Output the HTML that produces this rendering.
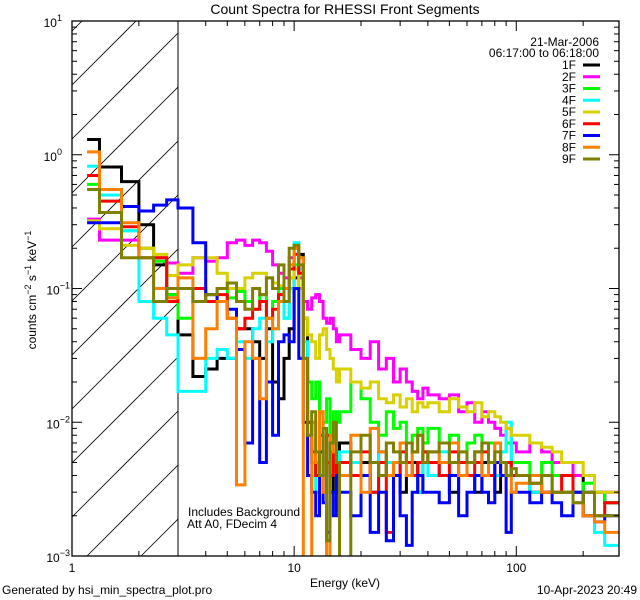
<!DOCTYPE html>
<html><head><meta charset="utf-8"><style>
html,body{margin:0;padding:0;background:#fff;overflow:hidden;width:640px;height:600px;}
svg{display:block;font-family:"Liberation Sans",sans-serif;overflow:hidden;}
</style></head><body>
<svg id="chart" width="640" height="600" viewBox="0 0 640 600">
<rect width="640" height="600" fill="#fff"/>
<defs><clipPath id="hclip"><rect x="72" y="21" width="106" height="535"/></clipPath>
<clipPath id="pclip"><rect x="72" y="21" width="547" height="535"/></clipPath></defs>
<text x="345" y="14" text-anchor="middle" font-size="14">Count Spectra for RHESSI Front Segments</text>
<g id="hatch" clip-path="url(#hclip)"></g>
<line x1="178" y1="21" x2="178" y2="556" stroke="#000" stroke-width="1"/>
<g id="series" clip-path="url(#pclip)"></g>
<rect x="72" y="21" width="547" height="535" fill="none" stroke="#000" stroke-width="1.3"/>
<g id="axes"></g>
<text x="345" y="587" text-anchor="middle" font-size="12">Energy (keV)</text>
<text transform="translate(36,290) rotate(-90)" text-anchor="middle" font-size="12">counts cm<tspan dy="-5" font-size="9">−2</tspan><tspan dy="5"> s</tspan><tspan dy="-5" font-size="9">−1</tspan><tspan dy="5"> keV</tspan><tspan dy="-5" font-size="9">−1</tspan></text>
<text x="188" y="516" font-size="12">Includes Background</text>
<text x="187" y="528" font-size="12">Att A0, FDecim 4</text>
<text x="599" y="46" text-anchor="end" font-size="12">21-Mar-2006</text>
<text x="599" y="57" text-anchor="end" font-size="12">06:17:00 to 06:18:00</text>
<g id="legend"></g>
<text x="2" y="594" font-size="12">Generated by hsi_min_spectra_plot.pro</text>
<text x="637" y="594" text-anchor="end" font-size="12">10-Apr-2023 20:49</text>
</svg>
<script>
const edges=[1.17,1.33,1.67,2.0,2.33,2.67,3.0,3.5,4,4.5,5,5.5,6,6.5,7,7.5,8,8.5,9,9.5,10,10.5,11,11.5,12,12.5,13,13.5,14,14.5,15,15.5,16,18,20,22,24,26,28,30,32,34,36,38,40,45,50,55,60,65,70,75,80,85,90,95,100,115,130,145,160,180,200,225,250,290];
const seriesNames=["1F","2F","3F","4F","5F","6F","7F","8F","9F"];
const seriesColors=["#000000","#ff00ff","#00ff00","#00ffff","#d8d000","#ff0000","#0000ff","#ff8000","#808000"];
const s1F=[1.3,0.81,0.63,0.30,0.15,0.09, 0.045,0.022,0.025,0.03,0.03,0.05,0.05,0.04,0.03,0.05,0.02,0.015,0.03,0.05, 0.12,0.18,0.06,0.01,0.005,0.004,0.006,0.004,0.008,0.003,0.004,0.006, 0.007,0.004,0.005,0.003,0.006,0.004,0.005,0.003,0.004,0.005,0.003,0.006, 0.005,0.004,0.003,0.005,0.004,0.003,0.005,0.004,0.003,0.004,0.005,0.004, 0.004,0.003,0.004,0.003,0.003,0.004,0.003,0.003,0.0025];
const s2F=[0.33,0.23,0.23,0.2,0.17,0.155, 0.13,0.17,0.16,0.17,0.22,0.23,0.21,0.23,0.22,0.19,0.15,0.13,0.12,0.17, 0.2,0.12,0.08,0.07,0.085,0.09,0.08,0.06,0.055,0.06,0.05,0.04, 0.045,0.035,0.03,0.04,0.025,0.03,0.02,0.025,0.02,0.017,0.015,0.018, 0.016,0.015,0.016,0.012,0.014,0.01,0.012,0.01,0.009,0.008,0.009,0.007, 0.006,0.007,0.006,0.005,0.005,0.004,0.004,0.003,0.003];
const s3F=[0.6,0.45,0.27,0.2,0.16,0.09, 0.06,0.08,0.09,0.1,0.085,0.095,0.08,0.07,0.09,0.06,0.08,0.1,0.06,0.12, 0.15,0.1,0.03,0.02,0.015,0.02,0.012,0.01,0.015,0.008,0.012,0.01, 0.012,0.02,0.015,0.01,0.008,0.012,0.009,0.01,0.007,0.008,0.009,0.007, 0.009,0.007,0.008,0.006,0.007,0.008,0.006,0.007,0.005,0.006,0.007,0.005, 0.005,0.004,0.005,0.004,0.004,0.003,0.0035,0.003,0.0025];
const s4F=[0.82,0.5,0.27,0.08,0.06,0.045, 0.017,0.017,0.03,0.035,0.03,0.04,0.03,0.05,0.06,0.04,0.05,0.08,0.06,0.1, 0.22,0.14,0.04,0.01,0.005,0.003,0.008,0.004,0.0006,0.006,0.004,0.003, 0.006,0.005,0.004,0.003,0.006,0.005,0.004,0.006,0.005,0.004,0.003,0.005, 0.004,0.006,0.005,0.004,0.005,0.006,0.004,0.005,0.004,0.006,0.01,0.004, 0.004,0.003,0.004,0.003,0.003,0.003,0.002,0.0015,0.0012];
const s5F=[0.32,0.28,0.21,0.2,0.18,0.125, 0.15,0.17,0.17,0.13,0.1,0.1,0.12,0.13,0.13,0.12,0.11,0.105,0.1,0.12, 0.14,0.1,0.06,0.045,0.04,0.03,0.045,0.05,0.035,0.03,0.025,0.02, 0.025,0.02,0.018,0.02,0.015,0.014,0.016,0.013,0.015,0.012,0.014,0.013, 0.014,0.012,0.015,0.013,0.012,0.014,0.011,0.012,0.011,0.01,0.009,0.008, 0.008,0.007,0.0065,0.006,0.005,0.005,0.004,0.003,0.003];
const s6F=[0.7,0.45,0.29,0.17,0.17,0.08, 0.1,0.1,0.08,0.09,0.06,0.05,0.06,0.07,0.08,0.06,0.07,0.09,0.1,0.14, 0.18,0.13,0.03,0.01,0.006,0.004,0.008,0.003,0.005,0.004,0.006,0.003, 0.005,0.004,0.006,0.003,0.005,0.0015,0.004,0.006,0.005,0.004,0.005,0.006, 0.005,0.004,0.006,0.005,0.004,0.005,0.006,0.004,0.005,0.004,0.005,0.004, 0.004,0.0035,0.003,0.003,0.004,0.003,0.002,0.002,0.0025];
const s7F=[0.31,0.31,0.41,0.38,0.42,0.46, 0.40,0.22,0.09,0.08,0.07,0.035,0.007,0.03,0.005,0.02,0.008,0.04,0.045,0.04, 0.1,0.03,0.01,0.004,0.003,0.002,0.004,0.0025,0.0015,0.003,0.002,0.004, 0.003,0.002,0.004,0.0015,0.003,0.0013,0.004,0.002,0.0012,0.003,0.004,0.003, 0.003,0.0025,0.004,0.002,0.003,0.004,0.003,0.0025,0.005,0.004,0.0015,0.003, 0.003,0.0025,0.003,0.0025,0.002,0.003,0.002,0.0018,0.002];
const s8F=[1.05,0.55,0.31,0.17,0.1,0.085, 0.12,0.03,0.05,0.08,0.06,0.0034,0.04,0.03,0.015,0.06,0.05,0.08,0.1,0.15, 0.2,0.17,0.0005,0.0005,0.01,0.005,0.012,0.003,0.0005,0.008,0.006,0.005, 0.004,0.008,0.003,0.009,0.006,0.004,0.005,0.007,0.004,0.006,0.008,0.005, 0.006,0.005,0.007,0.004,0.005,0.006,0.004,0.005,0.007,0.005,0.004,0.003, 0.0035,0.004,0.003,0.003,0.003,0.0025,0.002,0.0018,0.0015];
const s9F=[0.55,0.37,0.17,0.17,0.08,0.1, 0.1,0.08,0.09,0.1,0.11,0.08,0.07,0.1,0.09,0.12,0.1,0.15,0.08,0.2, 0.21,0.15,0.03,0.008,0.012,0.006,0.004,0.009,0.0013,0.007,0.01,0.005, 0.0005,0.006,0.008,0.005,0.004,0.007,0.006,0.005,0.007,0.006,0.008,0.005, 0.006,0.007,0.005,0.006,0.005,0.006,0.007,0.005,0.006,0.005,0.004,0.0045, 0.004,0.0035,0.004,0.003,0.003,0.0025,0.003,0.002,0.002];
const seriesValues=[s1F,s2F,s3F,s4F,s5F,s6F,s7F,s8F,s9F];
const xTickLabels=["1","10","100"];
const yTickExps=[1,0,-1,-2,-3];

const NS="http://www.w3.org/2000/svg";
const L=72,R=619,T=21,B=556;
const xmin=1,xmax=290,ymin=1e-3,ymax=10;
function xs(e){return L+(Math.log10(e)-Math.log10(xmin))/(Math.log10(xmax)-Math.log10(xmin))*(R-L);}
function ys(v){const y=B-(Math.log10(v)-Math.log10(ymin))/(Math.log10(ymax)-Math.log10(ymin))*(B-T);return Math.min(y,B+3);}
function mk(tag,attrs,parent){const el=document.createElementNS(NS,tag);for(const k in attrs)el.setAttribute(k,attrs[k]);parent.appendChild(el);return el;}

// hatch lines: y = c - (x - 72), clipped geometrically to [72,178]x[21,556]
const hatch=document.getElementById('hatch');
for(let c=85-54*3;c<556+106+54;c+=54){
  let xa=72,ya=c; if(ya>556){xa=72+(ya-556);ya=556;}
  let xb=178,yb=c-106; if(yb<21){xb=72+(c-21);yb=21;}
  if(xa>=178||xb<=72||xa>=xb)continue;
  const ln=mk('line',{x1:xa,y1:ya,x2:xb,y2:yb,stroke:'#000','stroke-width':0.8},hatch);
  
  
}

const sg=document.getElementById('series');
seriesValues.forEach((vals,si)=>{
  let d='';
  for(let i=0;i<vals.length;i++){
    const x0=xs(edges[i]),x1=xs(edges[i+1]),y=ys(vals[i]);
    d+=(i===0?'M':'L')+x0.toFixed(1)+','+y.toFixed(1)+'L'+x1.toFixed(1)+','+y.toFixed(1);
  }
  const p=mk('path',{d:d,fill:'none',stroke:seriesColors[si],'stroke-width':3,'stroke-linejoin':'miter'},sg);
  
  
});

const ag=document.getElementById('axes');
for(let dec=0;dec<3;dec++){
  for(let m=1;m<10;m++){
    const e=Math.pow(10,dec)*m; if(e>xmax)break;
    const x=xs(e),len=m===1?10:5;
    const t1=mk('line',{x1:x,y1:B,x2:x,y2:B-len,stroke:'#000'},ag);
    
    
    const t2=mk('line',{x1:x,y1:T,x2:x,y2:T+len,stroke:'#000'},ag);
    
    
  }
}
xTickLabels.forEach((lab,i)=>{
  const t=mk('text',{x:xs(Math.pow(10,i)),y:572,'text-anchor':'middle','font-size':12},ag);
  t.textContent=lab;
  
  
});
for(let ex=-3;ex<1;ex++){
  for(let m=1;m<10;m++){
    const v=Math.pow(10,ex)*m,y=ys(v),len=m===1?10:5;
    const t1=mk('line',{x1:L,y1:y,x2:L+len,y2:y,stroke:'#000'},ag);
    
    
    const t2=mk('line',{x1:R,y1:y,x2:R-len,y2:y,stroke:'#000'},ag);
    
    
  }
}
yTickExps.forEach(ex=>{
  const t=mk('text',{x:ex<0?70:62,y:ys(Math.pow(10,ex))+6,'text-anchor':'end','font-size':12},ag);
  t.innerHTML='10<tspan dy="-6" font-size="9">'+(ex<0?'−'+(-ex):ex)+'</tspan>';
  
  
});

const lg=document.getElementById('legend');
seriesNames.forEach((n,i)=>{
  const y=65+i*11.75;
  const t=mk('text',{x:576,y:y+4,'text-anchor':'end','font-size':12},lg);
  t.textContent=n;
  
  
  const ln=mk('line',{x1:583,y1:y,x2:600,y2:y,stroke:seriesColors[i],'stroke-width':3},lg);
  
  
});
</script>
</body></html>
